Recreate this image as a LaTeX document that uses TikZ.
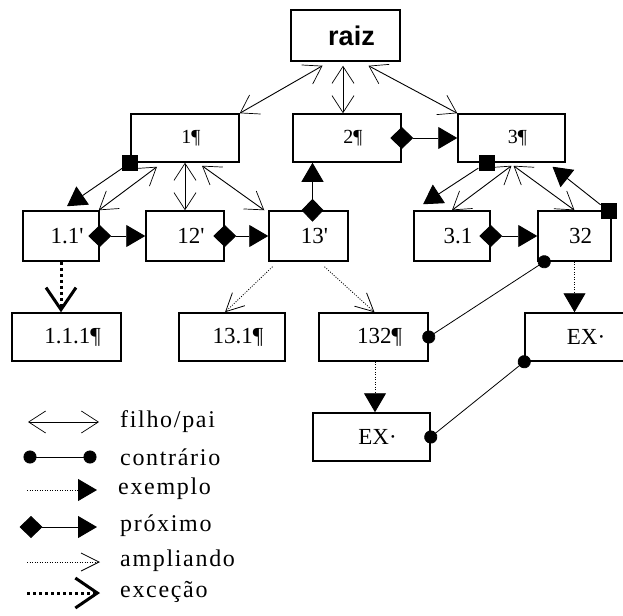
\documentclass[tikz,border=0pt]{standalone}
\usepackage{fontspec}
\setmainfont{Liberation Serif}
\newfontfamily\raizfont{Liberation Sans}
\newfontfamily\legfont[LetterSpace=7]{Liberation Serif}
\usetikzlibrary{arrows.meta}
\tikzset{caixa/.style={rectangle,draw=black,line width=1.5pt,minimum width=108pt,minimum height=48pt,inner sep=0pt,
  execute at begin node=\hspace*{12pt}},
 topo/.style={caixa,font=\fontsize{20}{20}\selectfont},
 baixo/.style={caixa,font=\fontsize{23}{23}\selectfont,minimum height=50pt},
 marca/.style={rectangle,fill=black,minimum size=16pt,inner sep=0pt},
 filhopai/.style={{Straight Barb[length=17pt,width=22pt,line width=0.7pt]}-{Straight Barb[length=17pt,width=22pt,line width=0.7pt]},line width=0.9pt},
 contrario/.style={{Circle[length=13pt]}-{Circle[length=13pt]},line width=0.8pt,shorten <=-6.5pt,shorten >=-6.5pt},
 exemplo/.style={-{Triangle[length=19pt,width=22pt]},dash pattern=on 1pt off 1.5pt,line width=0.9pt},
 proximo/.style={{Diamond[length=23pt,width=22pt]}-{Triangle[length=19pt,width=22pt]},line width=0.9pt,shorten <=-11.5pt},
 quadrado/.style={-{Triangle[length=19pt,width=22pt]},line width=0.9pt},
 ampliando/.style={-{Straight Barb[length=18pt,width=18pt,line width=0.8pt]},dash pattern=on 1pt off 1.5pt,line width=0.8pt},
 excecao/.style={-{Straight Barb[length=22pt,width=30pt,line width=3pt]},dash pattern=on 3pt off 3pt,line width=3pt},
 legenda/.style={anchor=west,inner sep=0pt,font=\fontsize{24}{24}\legfont}}

\begin{document}
\begin{tikzpicture}[x=1pt,y=-1pt]
 \useasboundingbox (0,0) rectangle (623,615);
 % caixas
 \node[caixa,minimum width=109pt,minimum height=51pt,execute at begin node={},font=\fontsize{27}{27}\raizfont\bfseries] (raiz) at (345.5,35.5) {raiz};
 \node[topo] (n1) at (185,138) {1¶};
 \node[topo] (n2) at (347,138) {2¶};
 \node[topo,minimum width=107pt] (n3) at (511.5,138) {3¶};
 \node[baixo,minimum width=76pt] (n11) at (61,236) {1.1\textquotesingle};
 \node[baixo,minimum width=78pt] (n12) at (185,236) {12\textquotesingle};
 \node[baixo,minimum width=79pt] (n13) at (308.5,236) {13\textquotesingle};
 \node[baixo,minimum width=76pt] (n31) at (452,236) {3.1};
 \node[baixo,minimum width=73pt] (n32) at (574.5,236) {32};
 \node[baixo,minimum height=48pt,minimum width=109pt] (n111) at (66.5,337) {1.1.1¶};
 \node[baixo,minimum height=48pt,minimum width=106pt] (n131) at (232,337) {13.1¶};
 \node[baixo,minimum height=48pt,minimum width=109pt] (n132) at (373.5,337) {132¶};
 \node[baixo,minimum height=48pt,minimum width=110pt,execute at begin node={}] (ex1) at (580,337) {EX·};
 \node[baixo,minimum height=48pt,minimum width=117pt] (ex2) at (371.5,437) {EX·};

 % filho/pai
 \draw[filhopai] ([xshift=-23pt,yshift=-4pt]raiz.south) -- (n1.north east);
 \draw[filhopai] ([xshift=-2.5pt,yshift=-4pt]raiz.south) -- ([xshift=-4pt]n2.north);
 \draw[filhopai] ([xshift=23pt,yshift=-4pt]raiz.south) -- (n3.north west);
 \draw[filhopai] ([xshift=-28pt,yshift=-4pt]n1.south) -- ([xshift=-1pt]n11.north east);
 \draw[filhopai] (n1.south) -- (n12.north);
 \draw[filhopai] ([xshift=17pt,yshift=-3pt]n1.south) -- ([xshift=-4pt]n13.north west);
 \draw[filhopai] ([yshift=-3pt]n3.south) -- (n31.north);
 \draw[filhopai] ([xshift=2pt,yshift=-3pt]n3.south) -- (n32.north);

 % quadrado -> triangulo
 \node[marca] (q1) at (n1.south west) {};
 \node[marca] (q3) at ([xshift=-25pt]n3.south) {};
 \node[marca] (q32) at ([xshift=-3pt,yshift=-1pt]n32.north east) {};
 \draw[quadrado] (q1) -- ([xshift=6pt,yshift=4pt]n11.north);
 \draw[quadrado] (q3) -- ([xshift=-29pt,yshift=6pt]n31.north);
 \draw[quadrado] (q32) -- ([xshift=41pt,yshift=-4pt]n3.south);

 % proximo
 \draw[proximo] (n2.east) -- (n3.west);
 \draw[proximo] (n11.east) -- (n12.west);
 \draw[proximo] (n12.east) -- (n13.west);
 \draw[proximo] (n31.east) -- (n32.west);
 \draw[proximo] ([xshift=4pt]n13.north) -- ([xshift=4pt]n13.north |- n2.south);

 % contrario
 \draw[contrario] ([xshift=7pt]n32.south west) -- (n132.east);
 \draw[contrario] (ex1.south west) -- (ex2.east);

 % exemplo
 \draw[exemplo] (n32.south) -- (n32.south |- ex1.north);
 \draw[exemplo] ([xshift=1.5pt]n132.south) -- ([xshift=1.5pt]n132.south |- ex2.north);

 % ampliando
 \draw[ampliando] ([xshift=-36pt,yshift=-5pt]n13.south) -- ([xshift=-7pt]n131.north);
 \draw[ampliando] ([xshift=16pt,yshift=-5pt]n13.south) -- ([xshift=1pt]n132.north);

 % excecao
 \draw[excecao] (n11.south) -- (n11.south |- n111.north);

 % legenda
 \coordinate (fpA) at (28,422);  \coordinate (fpB) at (99,422);
 \coordinate (ctA) at (30,457);  \coordinate (ctB) at (90,457);
 \coordinate (exA) at (27,490);  \coordinate (exB) at (97,490);
 \coordinate (prA) at (31,527);  \coordinate (prB) at (97,527);
 \coordinate (amA) at (27,562);  \coordinate (amB) at (100,562);
 \coordinate (ecA) at (27,593);  \coordinate (ecB) at (100,593);
 \draw[filhopai] (fpA) -- (fpB);
 \draw[contrario] (ctA) -- (ctB);
 \draw[exemplo] (exA) -- (exB);
 \draw[proximo] (prA) -- (prB);
 \draw[ampliando] (amA) -- (amB);
 \draw[excecao] (ecA) -- (ecB);
 \node[legenda] (lfp) at (120,422) {filho/pai};
 \node[legenda] (lct) at (120,457) {contrário};
 \node[legenda] (lex) at (118,489) {exemplo};
 \node[legenda] (lpr) at (120,526) {próximo};
 \node[legenda] (lam) at (120,561) {ampliando};
 \node[legenda] (lec) at (120,592) {exceção};
\end{tikzpicture}
\end{document}
